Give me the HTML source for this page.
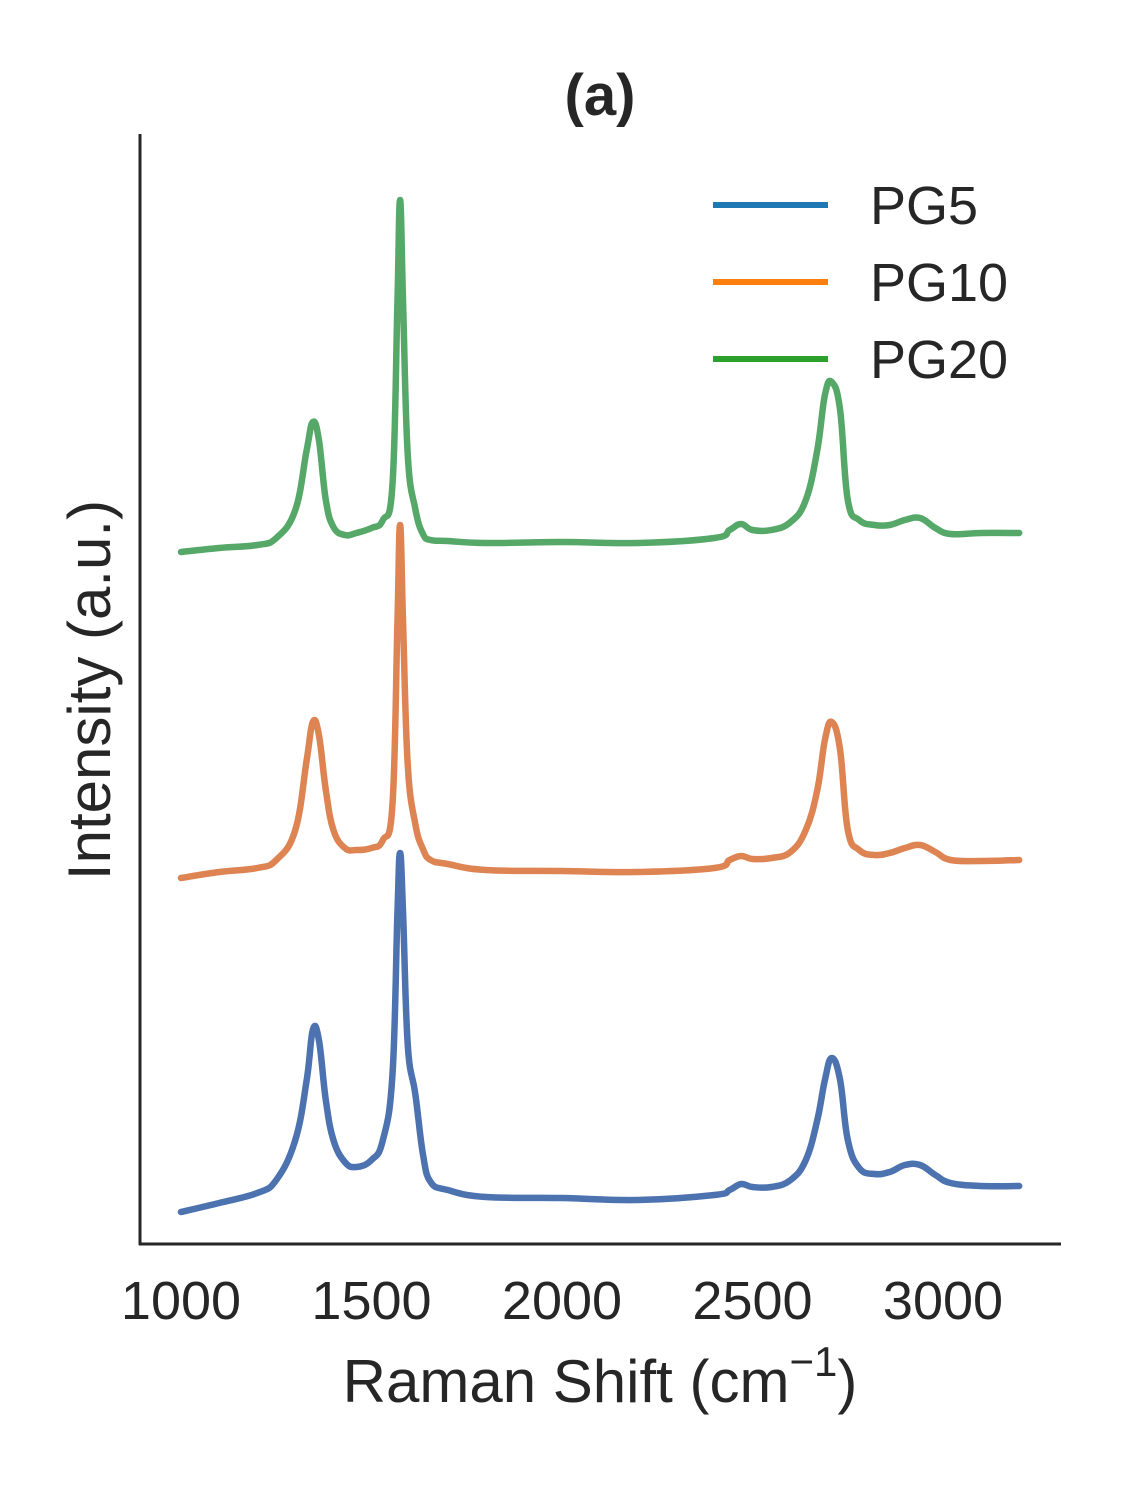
<!DOCTYPE html>
<html><head><meta charset="utf-8"><style>
body{margin:0;background:#fff;}
svg text{font-family:"Liberation Sans",sans-serif;fill:#262626;}
</style></head><body>
<svg id="chart" width="1125" height="1500" viewBox="0 0 1125 1500">
<text x="600" y="115" font-size="58" font-weight="bold" text-anchor="middle">(a)</text>
<line x1="140" y1="134" x2="140" y2="1245" stroke="#262626" stroke-width="3"/>
<line x1="139" y1="1244" x2="1061" y2="1244" stroke="#262626" stroke-width="3"/>
<g id="xticks"></g>
<g id="series"></g>
<text x="600" y="1402" font-size="60" text-anchor="middle">Raman Shift (cm<tspan font-size="42" dy="-26">−1</tspan><tspan dy="26">)</tspan></text>
<text transform="translate(110,690) rotate(-90)" font-size="60" text-anchor="middle">Intensity (a.u.)</text>
<g>
<line x1="713" y1="205" x2="828" y2="205" stroke="#1f77b4" stroke-width="6"/>
<text x="870" y="224" font-size="54">PG5</text>
<line x1="713" y1="282" x2="828" y2="282" stroke="#ff7f0e" stroke-width="6"/>
<text x="870" y="301" font-size="54">PG10</text>
<line x1="713" y1="359" x2="828" y2="359" stroke="#2ca02c" stroke-width="6"/>
<text x="870" y="378" font-size="54">PG20</text>
</g>
</svg>
<script>
const wavenumbers=[1000,1100,1200,1250,1300,1330,1346,1362,1380,1400,1430,1460,1500,1530,1555,1568,1575,1583,1595,1615,1635,1655,1700,1800,2000,2200,2400,2440,2470,2500,2550,2600,2640,2670,2690,2708,2730,2750,2780,2820,2860,2900,2940,2980,3020,3100,3200];
const pg5=[32,41,51,64,104,164,214,204,144,104,82,77,84,104,170,330,391,330,200,150,90,62,54,47,46,44,49,54,60,57,57,64,84,124,164,186,164,104,76,70,72,79,79,69,61,58,58];
const pg10=[366,372,376,384,414,484,522,509,454,414,396,394,396,404,440,620,719,620,480,420,395,384,380,374,373,372,376,384,388,385,386,392,414,454,504,522,494,414,394,389,391,396,399,392,384,383,384];
const pg20=[692,696,699,706,734,794,822,804,744,717,709,711,716,724,760,940,1044,940,790,735,710,704,703,701,702,701,706,714,720,714,714,722,744,794,849,862,834,744,724,719,719,724,726,716,710,711,711];
const xTicks=[1000,1500,2000,2500,3000];
const seriesNames=["pg5","pg10","pg20"];
const seriesColors=["#4c72b0","#dd8452","#55a868"];

const NS="http://www.w3.org/2000/svg";
function xScale(v){return 181+(v-1000)*0.381;}
function yScale(v){return 1244-v;}
const tg=document.getElementById('xticks');
xTicks.forEach(t=>{
  const el=document.createElementNS(NS,'text');
  el.setAttribute('x',xScale(t));el.setAttribute('y',1319);
  el.setAttribute('font-size','54');el.setAttribute('text-anchor','middle');
  el.textContent=t;
  
  
  tg.appendChild(el);
});
function smoothPath(pts){
  let d='M'+pts[0][0].toFixed(1)+','+pts[0][1].toFixed(1);
  for(let i=0;i<pts.length-1;i++){
    const p0=pts[Math.max(0,i-1)],p1=pts[i],p2=pts[i+1],p3=pts[Math.min(pts.length-1,i+2)];
    const t=0.2;
    const c1=[p1[0]+(p2[0]-p0[0])*t,p1[1]+(p2[1]-p0[1])*t];
    const c2=[p2[0]-(p3[0]-p1[0])*t,p2[1]-(p3[1]-p1[1])*t];
    d+=' C'+c1.map(v=>v.toFixed(1)).join(',')+' '+c2.map(v=>v.toFixed(1)).join(',')+' '+p2[0].toFixed(1)+','+p2[1].toFixed(1);
  }
  return d;
}
const sg=document.getElementById('series');
[pg5,pg10,pg20].forEach((arr,i)=>{
  const p=document.createElementNS(NS,'path');
  p.setAttribute('d',smoothPath(arr.map((v,j)=>[xScale(wavenumbers[j]),yScale(v)])));
  p.setAttribute('fill','none');p.setAttribute('stroke',seriesColors[i]);
  p.setAttribute('stroke-width','6.5');p.setAttribute('stroke-linejoin','round');p.setAttribute('stroke-linecap','round');
  
  
  sg.appendChild(p);
});
</script>
</body></html>
